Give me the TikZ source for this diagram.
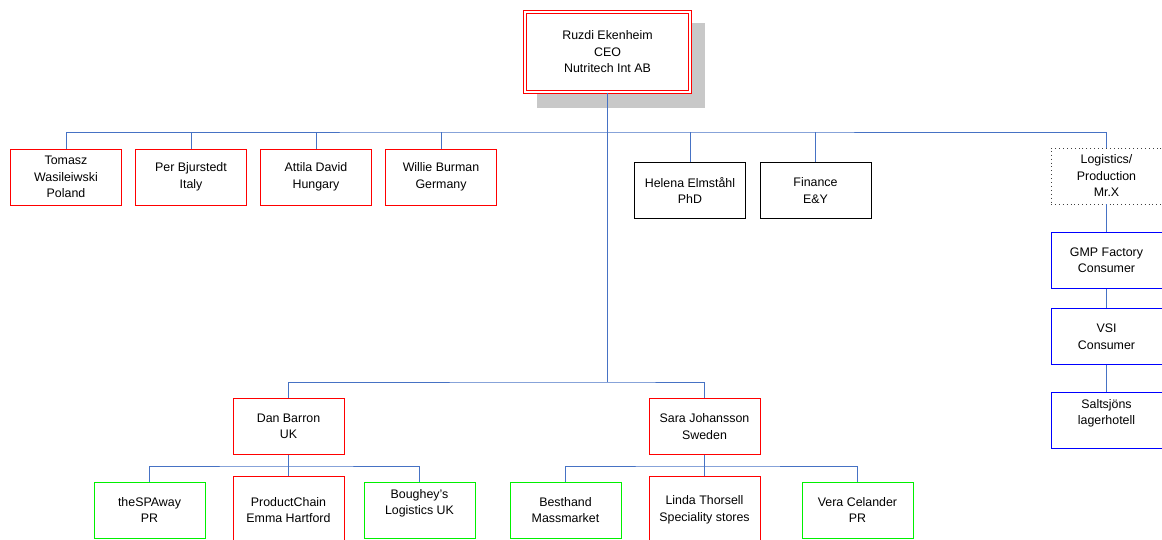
\documentclass[tikz,border=0pt]{standalone}
\usepackage{fontspec}
\setmainfont{Liberation Sans}
\definecolor{conn}{RGB}{70,114,196}
\definecolor{bred}{RGB}{255,0,0}
\definecolor{bgreen}{RGB}{0,240,0}
\definecolor{bblue}{RGB}{0,0,255}
\definecolor{shadowgray}{RGB}{200,200,200}
\tikzset{
  box/.style={draw, line width=1pt, minimum width=111pt, minimum height=56pt, inner sep=0pt, align=center, font=\fontsize{12.4}{16.5}\selectfont},
  redbox/.style={box, draw=bred},
  greenbox/.style={box, draw=bgreen},
  bluebox/.style={box, draw=bblue},
  blackbox/.style={box, draw=black},
  dotbox/.style={box, draw=black!75, line width=0.9pt, dash pattern=on 0.9pt off 3pt},
  link/.style={draw=conn, line width=1pt}
}
\begin{document}
\begin{tikzpicture}[x=1pt,y=-1pt]
\useasboundingbox (0,0) rectangle (1162,539);
\clip (0,0) rectangle (1162,539);
% shadow of CEO box
\fill[shadowgray] (537,23) rectangle (705,108);
% CEO
\node[draw=bred, line width=1pt, double=white, double distance=2.2pt, fill=white,
      minimum width=165pt, minimum height=80pt, inner sep=0pt, align=center,
      font=\fontsize{12.4}{16.5}\selectfont] (ceo) at (607.5,52) {Ruzdi Ekenheim\\CEO\\Nutritech Int AB};
% first row
\node[redbox] (tomasz) at (66,177) {Tomasz\\Wasileiwski\\Poland};
\node[redbox] (per) at (191,177) {Per Bjurstedt\\Italy};
\node[redbox] (attila) at (316,177) {Attila David\\Hungary};
\node[redbox] (willie) at (441,177) {Willie Burman\\Germany};
\node[blackbox] (helena) at (690,190.5) {Helena Elmst\aa hl\\PhD};
\node[blackbox] (finance) at (815.5,190.5) {Finance\\E\&Y};
\node[dotbox] (logi) at (1106.5,176) {Logistics/\\Production\\Mr.X};
% right chain
\node[bluebox] (gmp) at (1106.5,260) {GMP Factory\\Consumer};
\node[bluebox] (vsi) at (1106.5,336.5) {VSI\\Consumer};
\node[bluebox] (salt) at (1106.5,420) {Saltsj\"ons\\lagerhotell\\\mbox{}};
% country managers
\node[redbox] (dan) at (288.5,426.5) {Dan Barron\\UK};
\node[redbox] (sara) at (704.5,426.5) {Sara Johansson\\Sweden};
% bottom row
\node[greenbox] (spa) at (149.5,510) {theSPAway\\PR};
\node[redbox, minimum height=68pt] (pc) at (288.5,510) {ProductChain\\Emma Hartford};
\node[greenbox] (bough) at (419.5,510) {Boughey's\\Logistics UK\\\mbox{}};
\node[greenbox] (besth) at (565.5,510) {Besthand\\Massmarket};
\node[redbox, minimum height=68pt] (linda) at (704.5,510) {Linda Thorsell\\Speciality stores};
\node[greenbox] (vera) at (857.5,510) {Vera Celander\\PR};
% bus coordinates
\coordinate (bus1) at (607.5,132);
\coordinate (bus2) at (607.5,382);
\coordinate (bus3) at (288.5,466);
\coordinate (bus4) at (704.5,466);
% connectors
\draw[link] (ceo.south) -- (bus2);
\draw[link] (tomasz.north) |- (bus1) -| (logi.north);
\draw[link] (per.north) -- (per.north |- bus1);
\draw[link] (attila.north) -- (attila.north |- bus1);
\draw[link] (willie.north) -- (willie.north |- bus1);
\draw[link] (helena.north) -- (helena.north |- bus1);
\draw[link] (finance.north) -- (finance.north |- bus1);
\draw[link] (logi.south) -- (gmp.north);
\draw[link] (gmp.south) -- (vsi.north);
\draw[link] (vsi.south) -- (salt.north);
\draw[link] (dan.north) |- (bus2) -| (sara.north);
\draw[link] (dan.south) -- (pc.north);
\draw[link] (spa.north) |- (bus3) -| (bough.north);
\draw[link] (sara.south) -- (linda.north);
\draw[link] (besth.north) |- (bus4) -| (vera.north);
\end{tikzpicture}
\end{document}
